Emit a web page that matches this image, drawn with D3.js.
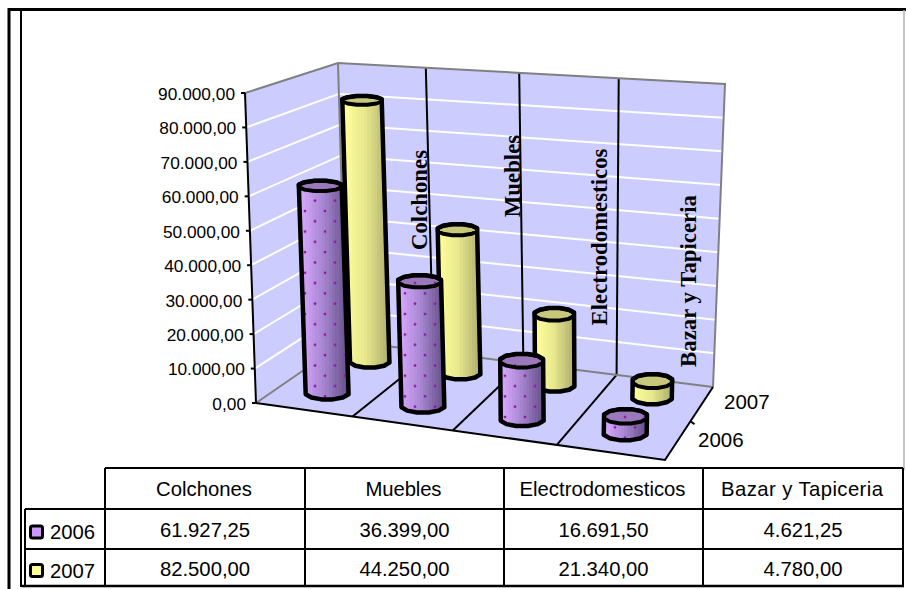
<!DOCTYPE html>
<html><head><meta charset="utf-8">
<style>html,body{margin:0;padding:0;background:#fff}svg{display:block}</style>
<script src="https://cdn.jsdelivr.net/npm/d3@7"></script></head><body>
<svg id="c" width="906" height="589"></svg>
<script>
const categories = ["Colchones","Muebles","Electrodomesticos","Bazar y Tapiceria"];
const seriesNames = ["2006","2007"];
const values2006 = [61927.25,36399.00,16691.50,4621.25];
const values2007 = [82500.00,44250.00,21340.00,4780.00];
const tickValues = [0,10000,20000,30000,40000,50000,60000,70000,80000,90000];

const W=906,H=589;
const svg=d3.select("#c").attr("viewBox",[0,0,W,H]);
const sans="'Liberation Sans',Arial,sans-serif", serif="'Liberation Serif','Times New Roman',serif";
const fmt=d3.formatLocale({decimal:",",thousands:".",grouping:[3],currency:["",""]}).format(",.2f");

// perspective of the 3-D box
function quad(p0,p1,p2,p3){
  const dx1=p1[0]-p2[0],dx2=p3[0]-p2[0],sx=p0[0]-p1[0]+p2[0]-p3[0];
  const dy1=p1[1]-p2[1],dy2=p3[1]-p2[1],sy=p0[1]-p1[1]+p2[1]-p3[1];
  const det=dx1*dy2-dx2*dy1;
  const g=(sx*dy2-dx2*sy)/det,h=(dx1*sy-sx*dy1)/det;
  const a=p1[0]-p0[0]+g*p1[0],b=p3[0]-p0[0]+h*p3[0],c=p0[0];
  const d=p1[1]-p0[1]+g*p1[1],e=p3[1]-p0[1]+h*p3[1],f=p0[1];
  return (u,v)=>{const w=g*u+h*v+1;return [(a*u+b*v+c)/w,(d*u+e*v+f)/w];};
}
const floorQ=quad([256,403],[665,460],[713,387],[346,341]);
const ceilQ =quad([245,93],[678,122],[725,84],[338,63]);
const hScale=d3.scaleLinear().domain([0,90000]).range([0,1]);
const barScale=d3.scaleLinear().domain([0,90000]).range([0,0.985]);
const uScale=d3.scaleLinear().domain([0,categories.length]).range([0,1]);
const vScale=d3.scaleLinear().domain([0,seriesNames.length]).range([0,1]);
const PT=(u,v,t)=>{const a=floorQ(u,v),b=ceilQ(u,v);return [a[0]+(b[0]-a[0])*t,a[1]+(b[1]-a[1])*t];};
const P=(u,v,val)=>PT(u,v,hScale(val));
const line=d3.line();

const defs=svg.append("defs");
function gradient(id,c0,c1,c2){
  const g=defs.append("linearGradient").attr("id",id);
  const n=15;
  const ramp=d3.scaleLinear().domain([0,.5,1]).range([c0,c1,c2]).interpolate(d3.interpolateRgb);
  d3.range(n).forEach(i=>{
    const c=ramp(i/(n-1));
    g.append("stop").attr("offset",i/n).attr("stop-color",c);
    g.append("stop").attr("offset",(i+1)/n).attr("stop-color",c);
  });
}
gradient("gP","#d9a9ff","#a585d0","#66508a");
gradient("gY","#ffff9c","#e6e68c","#b0b06e");
const pat=defs.append("pattern").attr("id","dots").attr("patternUnits","userSpaceOnUse").attr("width",20).attr("height",20.6);
[[5,5],[15,15.3]].forEach(d=>pat.append("circle").attr("cx",d[0]).attr("cy",d[1]).attr("r",1.4).attr("fill","#8e1a9e"));

// walls and floor
const gWall=svg.append("g");
const poly=(pts,fill)=>gWall.append("path").attr("d",line(pts)+"Z").attr("fill",fill);
poly([P(0,0,0),P(0,1,0),P(0,1,90000),P(0,0,90000)],"#ccccff");
poly([P(0,1,0),P(1,1,0),P(1,1,90000),P(0,1,90000)],"#ccccff");
poly([P(0,0,0),P(1,0,0),P(1,1,0),P(0,1,0)],"#ccccff");

const stroke=(pts,col,w)=>gWall.append("path").attr("d",line(pts)).attr("fill","none").attr("stroke",col).attr("stroke-width",w);
tickValues.slice(1,-1).forEach(t=>{
  stroke([P(0,0,t),P(0,1,t),P(1,1,t)],"#fff",2);
});
categories.slice(0,-1).forEach((c,i)=>{
  const u=uScale(i+1);
  stroke([P(u,1,0),P(u,1,90000)],"#000",2);
  stroke([P(u,0,0),P(u,1,0)],"#000",2);
});
stroke([P(0,0,90000),P(0,1,90000),P(1,1,90000),P(1,1,0)],"#808080",2);
stroke([P(0,1,90000),P(0,1,0)],"#808080",2);
stroke([P(0,0,0),P(0,1,0),P(1,1,0)],"#808080",2);
stroke([P(0,0,0),P(1,0,0),P(1,1,0)],"#000",2);
stroke([P(0,0,0),P(0,0,90000)],"#000",2);

// value axis
const gAxis=svg.append("g");
tickValues.forEach(t=>{
  const p=P(0,0,t);
  gAxis.append("line").attr("x1",p[0]-4).attr("x2",p[0]).attr("y1",p[1]).attr("y2",p[1]).attr("stroke","#000").attr("stroke-width",2);
  gAxis.append("text").attr("x",p[0]-10).attr("y",p[1]+0.8).attr("dy","0.35em").attr("text-anchor","end")
    .attr("font-family",sans).attr("font-size",17.3).attr("fill","#000").text(fmt(t));
});
// series axis
const mid=P(1,0.5,0);const perp=[mid[0]+4,mid[1]+3];
gAxis.append("line").attr("x1",mid[0]).attr("y1",mid[1]).attr("x2",perp[0]).attr("y2",perp[1]).attr("stroke","#000").attr("stroke-width",2);
const seriesLabelPos=[[698,440],[724,402]];
seriesNames.forEach((s,i)=>gAxis.append("text").attr("x",seriesLabelPos[i][0]).attr("y",seriesLabelPos[i][1]).attr("dy","0.35em")
  .attr("font-family",sans).attr("font-size",20.5).attr("fill","#000").text(s));

// category labels standing on the back wall
const catLabelPos=[[419,200],[512,176],[599,237],[688,281]];
categories.forEach((c,i)=>{
  svg.append("text").attr("transform",`translate(${catLabelPos[i][0]},${catLabelPos[i][1]}) rotate(-90)`)
    .attr("text-anchor","middle").attr("dy","0.35em").attr("font-family",serif).attr("font-weight","bold")
    .attr("font-size",22.8).attr("fill","#000").text(c);
});

// cylinders
const facets=d3.range(12).map(i=>(i+.5)/12*2*Math.PI);
const barRadius=[22.2,20.4];
function ring(c,rx,ry){return facets.map(a=>[c[0]+rx*Math.cos(a),c[1]+ry*Math.sin(a)]);}
function cylinder(catIdx,serIdx,val,grad,topFill,dots){
  const u=uScale(catIdx+.5),v=vScale(serIdx+.5);
  const rx=barRadius[serIdx];
  const b=PT(u,v,0),t=PT(u,v,barScale(val));
  const ryOf=y=>3.5+0.0095*y;
  const rb=ring(b,rx,ryOf(b[1])),rt=ring(t,rx,ryOf(t[1]));
  const outline=[...rb.slice(0,6),...rt.slice(6)];
  const g=svg.append("g");
  const d=line(outline)+"Z";
  g.append("path").attr("d",d).attr("fill",`url(#${grad})`);
  if(dots) g.append("path").attr("d",d).attr("fill","url(#dots)");
  g.append("path").attr("d",line(rt)+"Z").attr("fill",topFill);
  if(dots) g.append("path").attr("d",line(rt)+"Z").attr("fill","url(#dots)");
  g.append("path").attr("d",d).attr("fill","none").attr("stroke","#000").attr("stroke-width",4.5).attr("stroke-linejoin","round");
  g.append("path").attr("d",line(rt)+"Z").attr("fill","none").attr("stroke","#000").attr("stroke-width",4).attr("stroke-linejoin","round");
}
values2007.forEach((val,i)=>cylinder(i,1,val,"gY","#c8c87a",false));
values2006.forEach((val,i)=>cylinder(i,0,val,"gP","#9a78bb",true));

// frame
const f=svg.append("g").attr("fill","none").attr("stroke","#000");
f.append("path").attr("d","M9,590V9.5H906").attr("stroke-width",3);
f.append("path").attr("d","M21,10V587").attr("stroke-width",2);
f.append("path").attr("d","M904,10V470").attr("stroke","#b0b0b0").attr("stroke-width",1.5);

// data table
const colX=[105,305,504,703,903];
const rowY=[468,509,549,586];
const leftX=25;
const headerWidths=[96,76,166,162];
const tb=svg.append("g");
const tl=(x1,y1,x2,y2,w)=>tb.append("line").attr("x1",x1).attr("y1",y1).attr("x2",x2).attr("y2",y2).attr("stroke","#000").attr("stroke-width",w||2);
tl(colX[0],rowY[0],colX[4],rowY[0]);
tl(leftX,rowY[1],colX[4],rowY[1]);
tl(leftX,rowY[2],colX[4],rowY[2]);
tl(21,rowY[3],colX[4]+1,rowY[3],2.5);
tl(leftX,rowY[1],leftX,rowY[3]);
colX.forEach(x=>tl(x,rowY[0],x,rowY[3]));
const cell=(x,y,t,anchor)=>tb.append("text").attr("x",x).attr("y",y).attr("dy","0.35em").attr("text-anchor",anchor||"middle")
  .attr("font-family",sans).attr("font-size",20.3).attr("fill","#000").text(t);
categories.forEach((c,i)=>cell((colX[i]+colX[i+1])/2-1,(rowY[0]+rowY[1])/2,c).attr("textLength",headerWidths[i]));
[values2006,values2007].forEach((vals,r)=>{
  vals.forEach((v,i)=>cell((colX[i]+colX[i+1])/2,(rowY[r+1]+rowY[r+2])/2+1,fmt(v)));
  const cy=(rowY[r+1]+rowY[r+2])/2+3;
  tb.append("rect").attr("x",30.5).attr("y",cy-6).attr("width",12).attr("height",12).attr("rx",2)
    .attr("fill",r?"#ffff99":"#cc99ff").attr("stroke","#000").attr("stroke-width",3);
  cell(50,cy,seriesNames[r],"start");
});
</script></body></html>
